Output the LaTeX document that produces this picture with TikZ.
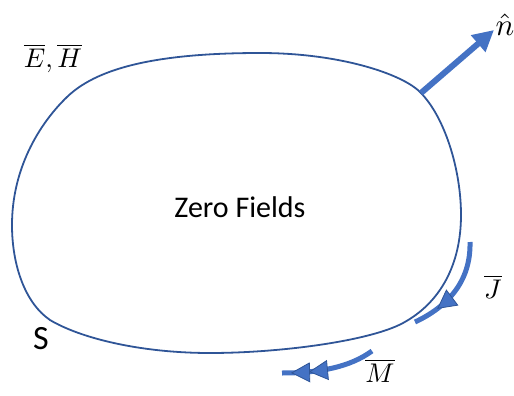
\documentclass[tikz,border=0pt]{standalone}
\usepackage{fontspec}
\setmainfont{Carlito}
\usetikzlibrary{arrows.meta,decorations.markings}
\definecolor{blobc}{HTML}{2F5597}
\definecolor{arrc}{HTML}{4472C4}
\tikzset{
  blob/.style={draw=blobc,line width=1.8pt},
  vec/.style={draw=arrc,line width=6pt,-{Triangle[length=21pt,width=21pt]}},
  curr/.style={draw=arrc,line width=5pt},
  tipJ/.style={postaction={decorate},decoration={markings,
     mark=at position 0.75 with {\arrow{Triangle[length=19pt,width=20pt,line width=0.8pt,color=blobc,fill=arrc]}}}},
  tipM/.style={postaction={decorate},decoration={markings,
     mark=at position -27pt with {\arrow{Triangle[length=19pt,width=20pt,line width=0.8pt,color=blobc,fill=arrc]}},
     mark=at position -9pt with {\arrow{Triangle[length=19pt,width=20pt,line width=0.8pt,color=blobc,fill=arrc]}}}},
  lbl/.style={inner sep=0pt,font=\fontsize{30}{32}\selectfont},
  mlbl/.style={inner sep=0pt,scale=2.7}
}
\begin{document}
\begin{tikzpicture}[x=1pt,y=-1pt]
\useasboundingbox (0,0) rectangle (514,396);
% surface S
\coordinate (pL) at (12,225);
\coordinate (pA) at (67,97);
\coordinate (pT) at (260,53);
\coordinate (pN) at (420,92);
\coordinate (pR) at (461,215);
\coordinate (pBR) at (403,323);
\coordinate (pB) at (210,353);
\coordinate (pBL) at (50,320);
\draw[blob] (pL) .. controls (12,170) and (38,125) .. (pA)
  .. controls (95,70) and (150,53) .. (pT)
  .. controls (340,53) and (402,74) .. (pN)
  .. controls (445,117) and (461,170) .. (pR)
  .. controls (461,265) and (440,303) .. (pBR)
  .. controls (370,341) and (280,353) .. (pB)
  .. controls (140,353) and (80,338) .. (pBL)
  .. controls (25,303) and (12,265) .. cycle;
% normal vector
\coordinate (nA) at (421,93);
\coordinate (nB) at (494,30);
\draw[vec] (nA) -- (nB);
\node[mlbl,scale=1.15] (nhat) at (505,25) {$\hat{n}$};
% electric current J
\coordinate (jA) at (470,242);
\coordinate (jB) at (415,322);
\draw[curr,tipJ] (jA) .. controls (471,282) and (447,307) .. (jB);
\node[mlbl] (jlbl) at (493,287) {$\overline{J}$};
% magnetic current M
\coordinate (mA) at (372,351);
\coordinate (mB) at (282,373);
\draw[curr,tipM] (mA) .. controls (350,367) and (320,373) .. (mB);
\node[mlbl] (mlbl) at (380,371) {$\overline{M}$};
% labels
\node[mlbl] (EH) at (53,58) {$\overline{E},\overline{H}$};
\node[lbl] (zf) at (240,207) {Zero Fields};
\node[inner sep=0pt,font=\fontsize{34}{36}\selectfont] (S) at (41,339) {S};
\end{tikzpicture}
\end{document}
